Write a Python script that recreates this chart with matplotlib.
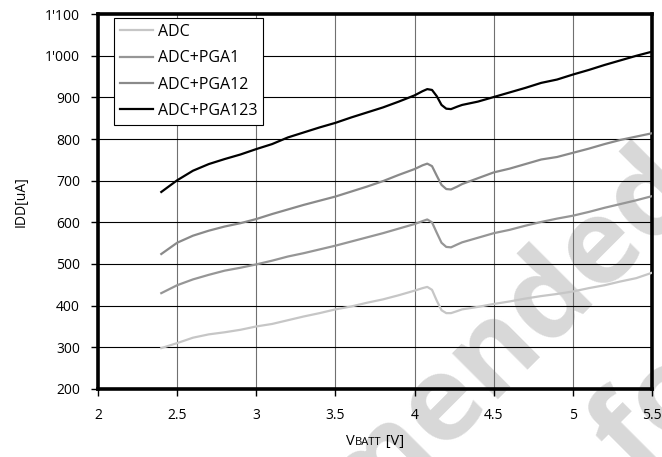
import numpy as np
import matplotlib
matplotlib.use("Agg")
import matplotlib.pyplot as plt
from matplotlib.ticker import FuncFormatter, MultipleLocator
from matplotlib.offsetbox import TextArea, HPacker, AnchoredOffsetbox

plt.rcParams['font.family'] = ['Open Sans', 'DejaVu Sans']

# supply voltage [V]
vbatt = [2.4, 2.5, 2.6, 2.7, 2.8, 2.9, 3.0, 3.1, 3.2, 3.3, 3.4, 3.5, 3.6, 3.7, 3.8, 3.9,
         4.0, 4.05, 4.08, 4.11, 4.14, 4.17, 4.2, 4.23, 4.27, 4.3,
         4.4, 4.5, 4.6, 4.7, 4.8, 4.9, 5.0, 5.1, 5.2, 5.3, 5.4, 5.5]

# supply current [uA]
adc = [298, 310, 323, 331, 336, 342, 350, 356, 365, 374, 382, 391, 398, 407, 415, 425,
       436, 442, 445, 438, 412, 389, 382, 382, 387, 391,
       397, 404, 410, 417, 423, 428, 434, 442, 449, 458, 466, 479]
adc_pga1 = [430, 449, 463, 474, 484, 491, 499, 508, 518, 526, 535, 544, 554, 564, 574, 585,
            596, 603, 607, 600, 575, 551, 541, 540, 547, 552,
            563, 574, 582, 592, 601, 609, 616, 625, 635, 644, 653, 663]
adc_pga12 = [524, 551, 568, 580, 590, 598, 608, 620, 631, 642, 652, 662, 674, 686, 699, 714,
             728, 737, 741, 735, 712, 690, 680, 679, 686, 692,
             706, 720, 729, 740, 751, 757, 767, 777, 788, 798, 806, 814]
adc_pga123 = [673, 701, 724, 740, 752, 763, 776, 788, 804, 816, 828, 839, 852, 864, 876, 890,
              905, 915, 920, 918, 903, 882, 873, 872, 878, 882,
              890, 901, 912, 923, 935, 943, 955, 966, 978, 989, 1000, 1010]

labels = ["ADC", "ADC+PGA1", "ADC+PGA12", "ADC+PGA123"]
colors = ["#c6c6c6", "#969696", "#8a8a8a", "#000000"]


def thousands(v, pos):
    return f"{int(v):,}".replace(",", "'")


def main():
    fig = plt.figure(figsize=(6.62, 4.57), dpi=100)
    ax = fig.add_axes([0.148, 0.149, 0.837, 0.820])
    ax.patch.set_alpha(0)

    # watermark behind everything
    wm = dict(rotation=45, rotation_mode='anchor', va='baseline', fontsize=85,
              fontweight='bold', color='#d8d8d8', zorder=-1)
    fig.text(1.060, 0.571, "Not recommended", ha='right', **wm)
    fig.text(0.963, -0.05, "for new design", ha='left', **wm)

    for ys, lab, c in zip([adc, adc_pga1, adc_pga12, adc_pga123], labels, colors):
        ax.plot(vbatt, ys, color=c, lw=1.6, label=lab, zorder=3)

    ax.set_xlim(2, 5.5)
    ax.set_ylim(200, 1100)
    ax.xaxis.set_major_locator(MultipleLocator(0.5))
    ax.yaxis.set_major_locator(MultipleLocator(100))
    ax.xaxis.set_major_formatter(FuncFormatter(lambda v, p: f"{v:g}"))
    ax.yaxis.set_major_formatter(FuncFormatter(thousands))

    ax.grid(axis='y', color='black', lw=0.8, zorder=1)
    ax.grid(axis='x', color='#707070', lw=0.8, zorder=1)
    ax.set_axisbelow(True)

    for s in ax.spines.values():
        s.set_linewidth(2.6)
        s.set_color('black')

    ax.tick_params(axis='both', direction='out', length=5, width=1, labelsize=10, color='black')
    ax.tick_params(axis='x', pad=9)
    ax.tick_params(axis='y', pad=8)

    ax.set_ylabel("IDD[uA]", fontsize=10)
    ax.yaxis.set_label_coords(-0.125, 0.5)

    # x label with small caps subscript part
    xl = HPacker(children=[TextArea("V", textprops=dict(size=10.5)),
                           TextArea("BATT", textprops=dict(size=8)),
                           TextArea(" [V]", textprops=dict(size=10.5))],
                 align="baseline", pad=0, sep=0)
    ax.add_artist(AnchoredOffsetbox(loc='center', child=xl, frameon=False,
                                    bbox_to_anchor=(0.5, -0.14),
                                    bbox_transform=ax.transAxes, borderpad=0))

    leg = ax.legend(loc='upper left', bbox_to_anchor=(0.029, 0.989), borderaxespad=0,
                    fontsize=11.5, fancybox=False, edgecolor='black', framealpha=1,
                    handlelength=2.1, handletextpad=0.3, labelspacing=0.65,
                    borderpad=0.35)
    leg.get_frame().set_linewidth(0.8)

    fig.savefig("out.png", dpi=100)


if __name__ == "__main__":
    main()
